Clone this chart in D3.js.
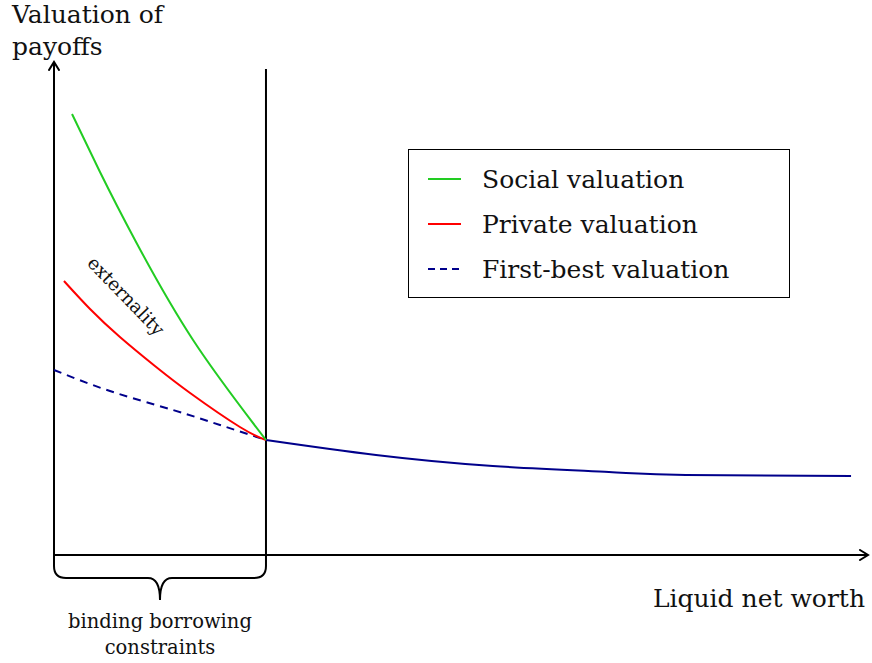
<!DOCTYPE html>
<html>
<head>
<meta charset="utf-8">
<script src="https://cdn.jsdelivr.net/npm/d3@7"></script>
<style>
  body { margin: 0; background: #fff; }
  svg text { font-family: "DejaVu Serif", "Liberation Serif", serif; fill: #111; }
</style>
</head>
<body>
<div id="chart"></div>
<script>
const width = 872, height = 663;

// data (x: liquid net worth, y: valuation)
const socialX  = [0.085, 0.217, 0.382, 0.656, 1.0];
const socialY  = [4.41, 3.83, 3.15, 2.15, 1.15];
const privateX = [0.047, 0.17, 0.311, 0.476, 0.642, 0.877, 1.0];
const privateY = [2.74, 2.46, 2.18, 1.89, 1.62, 1.28, 1.15];
const firstBestX = [0, 0.264, 0.561, 0.783, 1.0];
const firstBestY = [1.85, 1.64, 1.45, 1.30, 1.15];
const unconstrainedX = [1.0, 1.519, 2.07, 2.618, 2.98, 3.76];
const unconstrainedY = [1.15, 1.00, 0.89, 0.83, 0.80, 0.79];
const threshold = 1.0;

const legendLabels = ["Social valuation", "Private valuation", "First-best valuation"];
const colors = ["#22cc22", "#ff0000", "#00008b"];

const x = d3.scaleLinear().domain([0, 3.84]).range([54, 868]);
const y = d3.scaleLinear().domain([0, 4.93]).range([555, 62]);

const svg = d3.select("#chart")
    .append("svg")
        .attr("width", width)
        .attr("height", height);

const defs = svg.append("defs");
defs.append("marker")
    .attr("id", "arrow")
    .attr("viewBox", "0 0 12 12")
    .attr("refX", 10).attr("refY", 6)
    .attr("markerWidth", 12).attr("markerHeight", 12)
    .attr("markerUnits", "userSpaceOnUse")
    .attr("orient", "auto")
  .append("path")
    .attr("d", "M2,1 L10,6 L2,11")
    .attr("fill", "none")
    .attr("stroke", "#000")
    .attr("stroke-width", 2)
    .attr("stroke-linecap", "round");

const zip = (xs, ys) => xs.map((d, i) => [d, ys[i]]);
const line = d3.line()
    .x(d => x(d[0]))
    .y(d => y(d[1]))
    .curve(d3.curveNatural);

// axes
svg.append("line")
    .attr("x1", x(0)).attr("y1", y(0))
    .attr("x2", x(3.84)).attr("y2", y(0))
    .attr("stroke", "#000").attr("stroke-width", 2)
    .attr("marker-end", "url(#arrow)");
svg.append("line")
    .attr("x1", x(0)).attr("y1", y(0) + 1)
    .attr("x2", x(0)).attr("y2", y(4.93))
    .attr("stroke", "#000").attr("stroke-width", 2)
    .attr("marker-end", "url(#arrow)");

// borrowing constraint line
svg.append("line")
    .attr("x1", x(threshold)).attr("y1", y(0))
    .attr("x2", x(threshold)).attr("y2", y(4.86))
    .attr("stroke", "#000").attr("stroke-width", 2);

// curves
svg.append("path")
    .attr("d", line(zip(firstBestX, firstBestY)))
    .attr("fill", "none").attr("stroke", colors[2]).attr("stroke-width", 2)
    .attr("stroke-dasharray", "8,6");
svg.append("path")
    .attr("d", line(zip(unconstrainedX, unconstrainedY)))
    .attr("fill", "none").attr("stroke", colors[2]).attr("stroke-width", 2);
svg.append("path")
    .attr("d", line(zip(privateX, privateY)))
    .attr("fill", "none").attr("stroke", colors[1]).attr("stroke-width", 2);
svg.append("path")
    .attr("d", line(zip(socialX, socialY)))
    .attr("fill", "none").attr("stroke", colors[0]).attr("stroke-width", 2);

// brace under the constrained region
const bx0 = x(0), bx1 = x(threshold), bm = (bx0 + bx1) / 2;
const by0 = y(0), by1 = y(0) + 23, tip = y(0) + 45, r = 12;
svg.append("path")
    .attr("d", `M${bx0},${by0} L${bx0},${by1 - r} Q${bx0},${by1} ${bx0 + r},${by1}
                L${bm - r},${by1} Q${bm},${by1} ${bm},${tip}
                Q${bm},${by1} ${bm + r},${by1} L${bx1 - r},${by1} Q${bx1},${by1} ${bx1},${by1 - r} L${bx1},${by0}`)
    .attr("fill", "none").attr("stroke", "#000").attr("stroke-width", 2);

svg.append("text")
    .attr("x", bm).attr("y", 628)
    .attr("text-anchor", "middle")
    .attr("font-size", 19.5)
    .text("binding borrowing");
svg.append("text")
    .attr("x", bm).attr("y", 654)
    .attr("text-anchor", "middle")
    .attr("font-size", 19.5)
    .text("constraints");

// axis titles
svg.append("text").attr("x", 12).attr("y", 23).attr("font-size", 25).text("Valuation of");
svg.append("text").attr("x", 12).attr("y", 55).attr("font-size", 25).text("payoffs");
svg.append("text").attr("x", 865).attr("y", 607)
    .attr("text-anchor", "end").attr("font-size", 25).text("Liquid net worth");

// externality label
svg.append("text")
    .attr("transform", "translate(125,297) rotate(46)")
    .attr("text-anchor", "middle")
    .attr("dominant-baseline", "middle")
    .attr("font-size", 18.5)
    .text("externality");

// legend
const legend = svg.append("g");
legend.append("rect")
    .attr("x", 408.5).attr("y", 149.5)
    .attr("width", 381).attr("height", 148)
    .attr("fill", "#fff").attr("stroke", "#000").attr("stroke-width", 1);

legendLabels.forEach((label, i) => {
    const ly = 179 + i * 45;
    legend.append("line")
        .attr("x1", 428).attr("x2", 461)
        .attr("y1", ly).attr("y2", ly)
        .attr("stroke", colors[i]).attr("stroke-width", 2)
        .attr("stroke-dasharray", i === 2 ? "7,5" : null);
    legend.append("text")
        .attr("x", 482).attr("y", ly + 9)
        .attr("font-size", 25)
        .text(label);
});
</script>
</body>
</html>
